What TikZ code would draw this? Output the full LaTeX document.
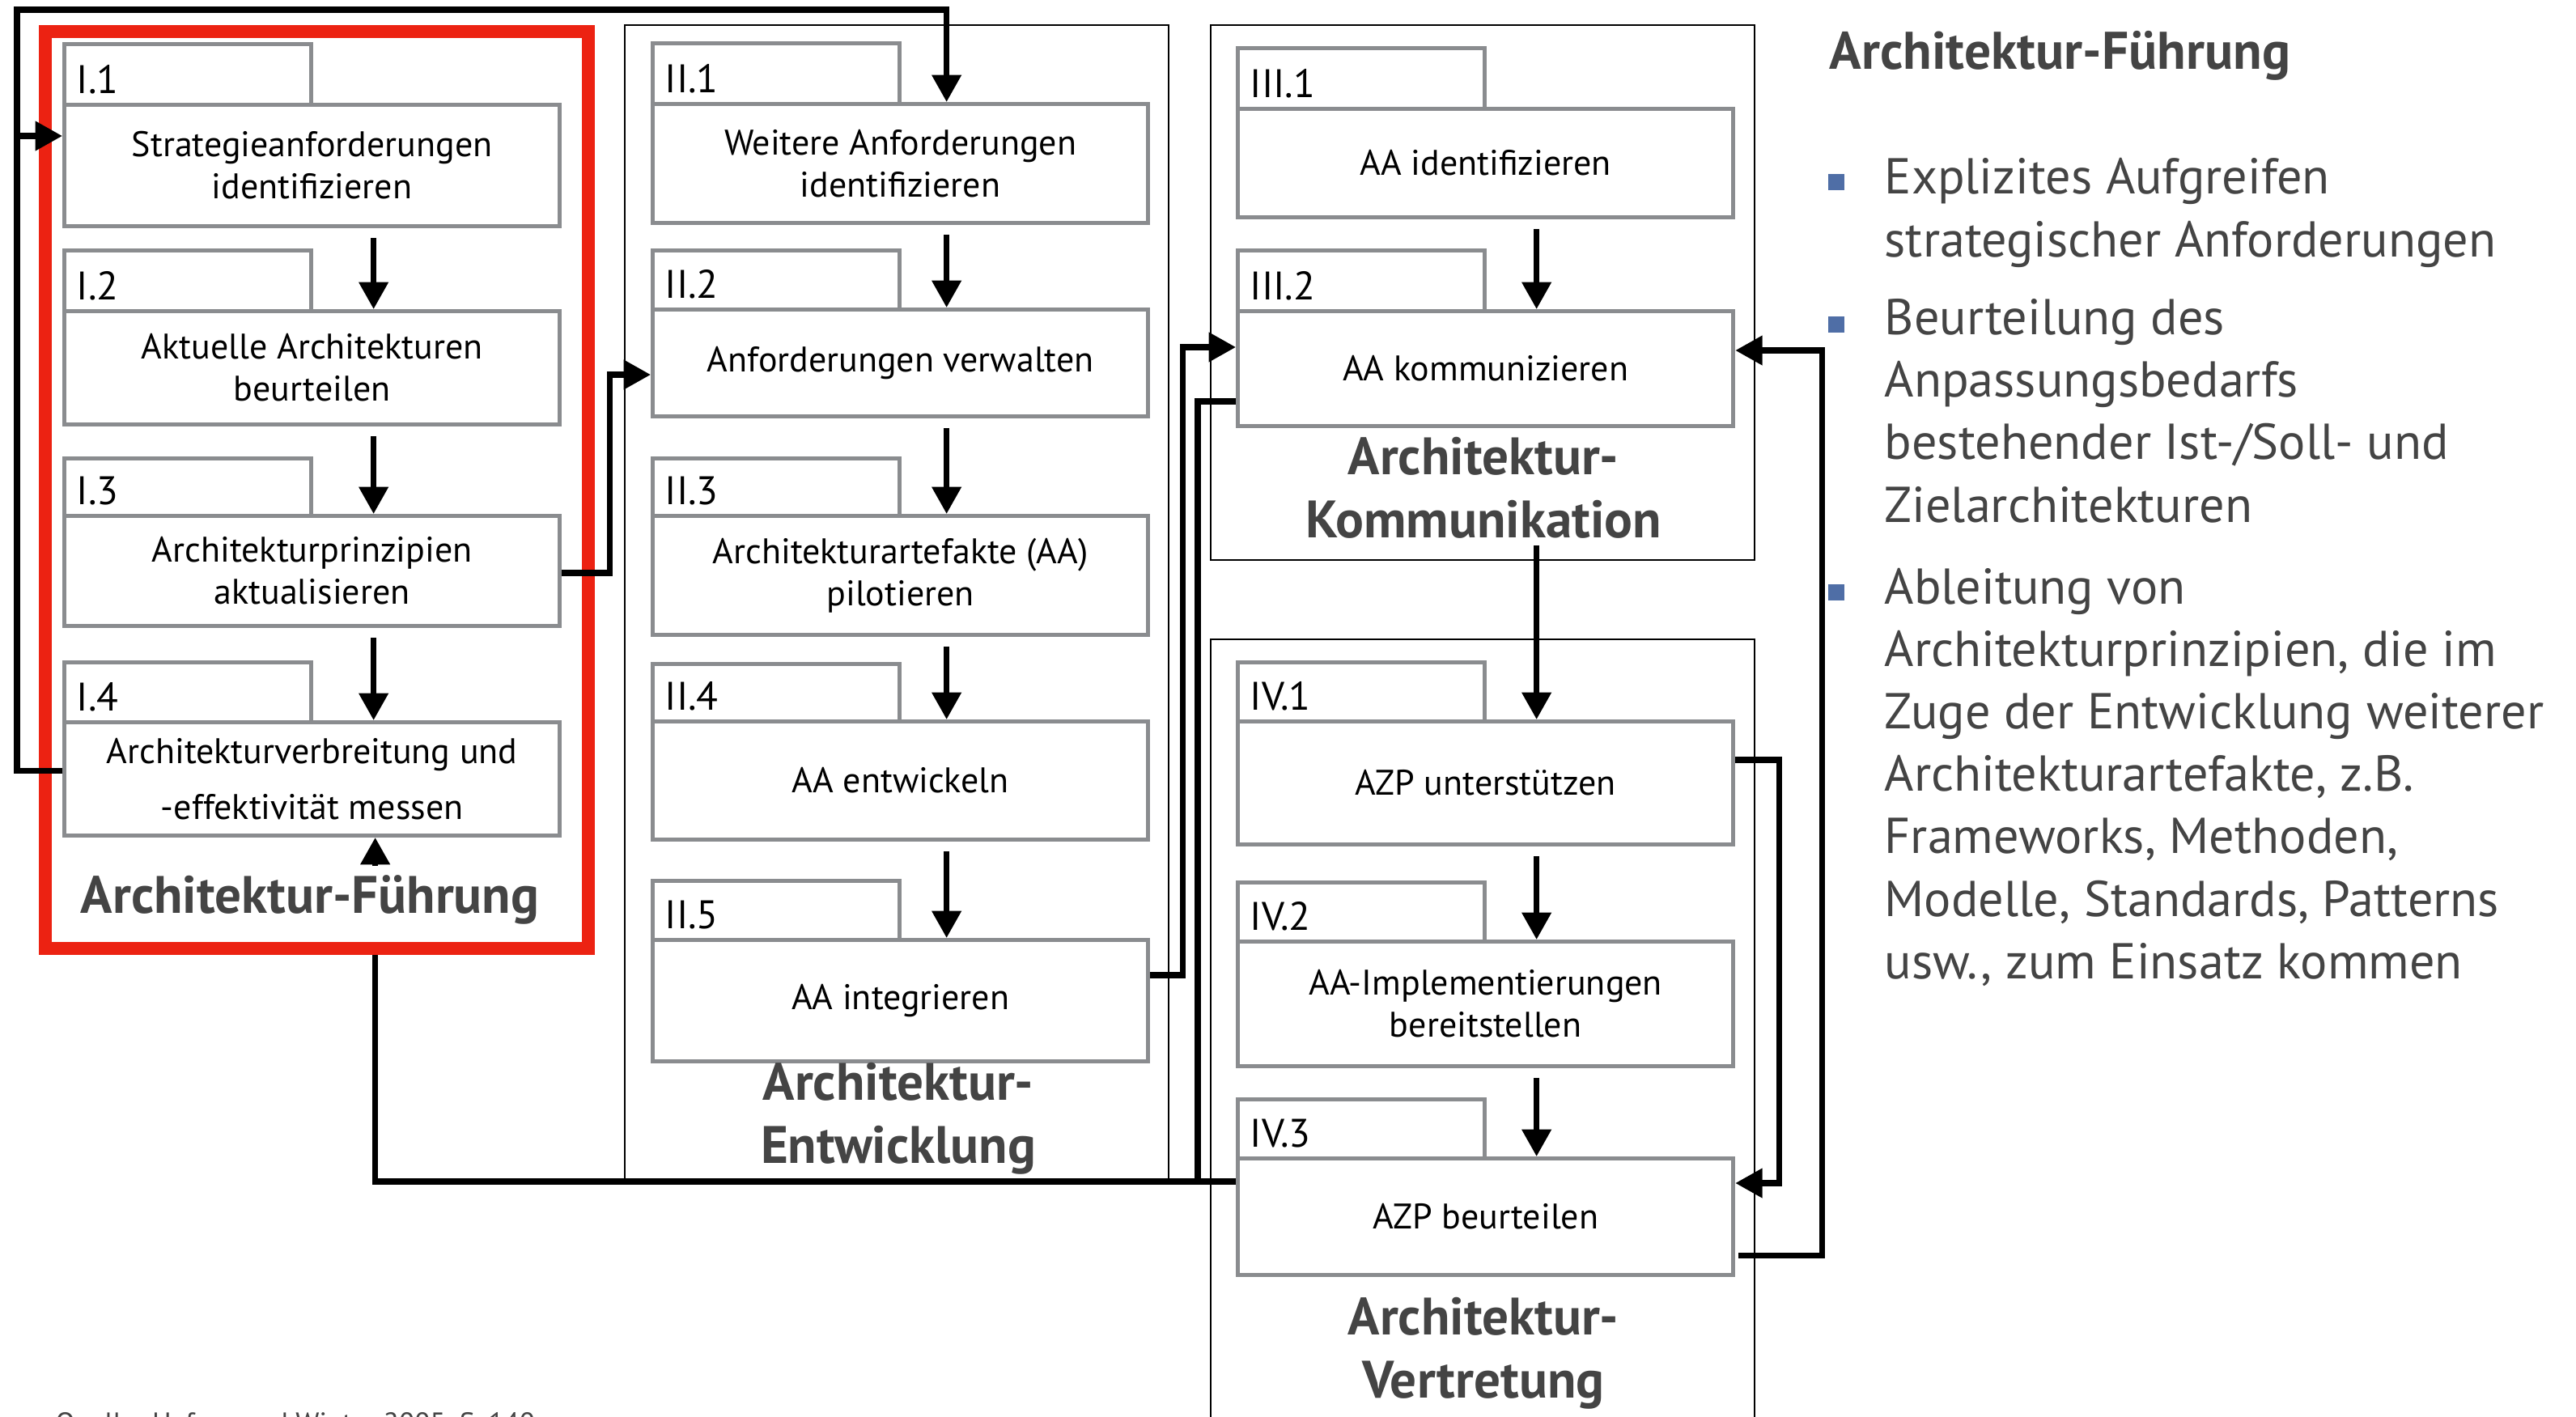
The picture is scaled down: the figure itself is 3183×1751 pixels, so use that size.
\documentclass[tikz,border=0pt]{standalone}
\usepackage{fontspec}
\setmainfont{PT Sans}
\usetikzlibrary{positioning,calc,arrows.meta}

\definecolor{rahmengrau}{RGB}{138,140,143}
\definecolor{titelgrau}{RGB}{68,68,68}
\definecolor{fuehrungsrot}{RGB}{236,34,18}
\definecolor{punktblau}{RGB}{79,110,166}

\tikzset{
  tabbox/.style={draw=rahmengrau, line width=1.4pt, fill=white, minimum width=3.05cm, inner sep=0pt, anchor=north west},
  mainbox/.style={draw=rahmengrau, line width=1.4pt, fill=white, minimum width=6.12cm, inner sep=0pt, anchor=north west, align=center, font=\fontsize{12.5}{14.8}\selectfont},
  nummer/.style={anchor=base west, inner sep=0pt, font=\fontsize{14}{16}\selectfont},
  spalte/.style={draw=black, line width=0.7pt},
  titel/.style={text=titelgrau, font=\fontsize{18.5}{22}\selectfont\bfseries, align=center, inner sep=0pt},
  pfeil/.style={line width=2pt, -{Triangle[width=10pt,length=9.5pt]}},
  linie/.style={line width=2pt},
  punkt/.style={fill=punktblau, minimum size=0.2cm, inner sep=0pt},
  aufz/.style={text=titelgrau, anchor=base west, align=left, inner sep=0pt, font=\fontsize{17.7}{21.9}\selectfont}
}

% name, x, tab top, box top, box bottom, number, text
\newcommand{\schritt}[7]{%
  \node[tabbox, minimum height={(#4-#3)*0.01cm}] (#1t) at (#2,#3) {};
  \node[nummer] at (#2+17,#4-12) {#6};
  \node[mainbox, minimum height={(#5-#4)*0.01cm}] (#1) at (#2,#4) {#7};
}

\begin{document}
\begin{tikzpicture}[x=0.01cm, y=-0.01cm]
\useasboundingbox (0,0) rectangle (3183,1751);
\clip (0,0) rectangle (3183,1751);

% Spalten
\draw[spalte] (772,31) rectangle (1444,1459);
\draw[spalte] (1496,31) rectangle (2168,692);
\draw[spalte] (1496,790) rectangle (2168,1800);
\node[draw=fuehrungsrot, line width=4.55pt, minimum width=6.71cm, minimum height=11.32cm, inner sep=0pt, anchor=north west] (fuehrung) at (48,31) {};

\schritt{I1}{77}{52}{127}{277}{I.1}{Strategieanforderungen\\identifizieren}
\schritt{I2}{77}{307}{382}{522}{I.2}{Aktuelle Architekturen\\beurteilen}
\schritt{I3}{77}{564}{635}{771}{I.3}{Architekturprinzipien\\aktualisieren}
\schritt{I4}{77}{816}{890}{1030}{I.4}{Architekturverbreitung und\\[5pt]-effektivität messen}
\schritt{II1}{804}{51}{126}{273}{II.1}{Weitere Anforderungen\\identifizieren}
\schritt{II2}{804}{307}{380}{512}{II.2}{Anforderungen verwalten}
\schritt{II3}{804}{564}{635}{782}{II.3}{Architekturartefakte (AA)\\pilotieren}
\schritt{II4}{804}{818}{889}{1035}{II.4}{AA entwickeln}
\schritt{II5}{804}{1086}{1159}{1309}{II.5}{AA integrieren}
\schritt{III1}{1527}{57}{132}{266}{III.1}{AA identifizieren}
\schritt{III2}{1527}{307}{382}{524}{III.2}{AA kommunizieren}
\schritt{IV1}{1527}{816}{889}{1041}{IV.1}{AZP unterstützen}
\schritt{IV2}{1527}{1088}{1161}{1315}{IV.2}{AA-Implementierungen\\bereitstellen}
\schritt{IV3}{1527}{1356}{1429}{1573}{IV.3}{AZP beurteilen}

\node[titel, anchor=base] (tI) at (383,1128) {Architektur-Führung};
\node[titel, anchor=base] (tII) at (1110,1437) {Architektur-\\Entwicklung};
\node[titel, anchor=base] (tIII) at (1833,664) {Architektur-\\Kommunikation};
\node[titel, anchor=base] (tIV) at (1833,1727) {Architektur-\\Vertretung};

\foreach \a/\b/\s in {I1/I2/76,I2/I3/76,I3/I4/76,II1/II2/57,II2/II3/57,II3/II4/57,II4/II5/57,III1/III2/63,IV1/IV2/63,IV2/IV3/63}
  \draw[pfeil] ($(\a.south)+(\s,12)$) -- ($(\b.north)+(\s,0)$);

% Rueckkopplung oben
\coordinate (ecke) at (21,12);
\coordinate (I1ein) at ($(I1.north west)+(0,41)$);
\draw[pfeil] ($(I4.west)+(0,-10)$) -| (ecke) -| ($(II1.north)+(57,0)$);
\draw[pfeil] (ecke |- I1ein) -- (I1ein);

\draw[pfeil] ($(I3.north east)+(0,73)$) -- ++(59,0) |- ($(II2.north west)+(0,83)$);
\draw[pfeil] ($(II5.north east)+(0,46)$) -- ++(40,0) |- ($(III2.north west)+(0,47)$);
\coordinate (kIV) at ($(IV1.north)+(63,0)$);
\draw[pfeil] (kIV |- tIII.south) ++(0,8) -- (kIV);
\draw[pfeil] ($(IV1.north east)+(0,50)$) -- ++(54,0) |- ($(IV3.north east)+(0,33)$);
\draw[pfeil] ($(IV3.south east)+(4,-26)$) -- ++(103,0) |- ($(III2.north east)+(0,51)$);

% Rueckkopplung unten
\coordinate (zurueck) at ($(IV3.north west)+(0,31)$);
\coordinate (xI) at ($(I4.south)+(78,0)$);
\coordinate (abzw) at (1480,0);
\draw[linie] (zurueck) -| (fuehrung.south -| xI);
\draw[pfeil] (tI.north -| xI) ++(0,-10) -- (xI);
\draw[linie] ($(III2.north west)+(0,114)$) -| (abzw |- zurueck);

% rechte Seite
\node[anchor=base west, inner sep=0pt, text=titelgrau, font=\fontsize{18.6}{22}\selectfont\bfseries] (kopf) at (2260,85) {Architektur-Führung};
\node[punkt] (p1) at (2269,225) {};
\node[punkt] (p2) at (2269,401) {};
\node[punkt] (p3) at (2269,732) {};
\node[aufz] (b1) at (2328,317) {Explizites Aufgreifen\\strategischer Anforderungen};
\node[aufz] (b2) at (2328,645) {Beurteilung des\\Anpassungsbedarfs\\bestehender Ist-/Soll- und\\Zielarchitekturen};
\node[aufz] (b3) at (2328,1209) {Ableitung von\\Architekturprinzipien, die im\\Zuge der Entwicklung weiterer\\Architekturartefakte, z.B.\\Frameworks, Methoden,\\Modelle, Standards, Patterns\\usw., zum Einsatz kommen};

\node[anchor=north west, inner sep=0pt, text=titelgrau, font=\fontsize{10}{12}\selectfont] (quelle) at (68,1745) {Quelle: Hafner und Winter 2005, S. 140};
\end{tikzpicture}
\end{document}
